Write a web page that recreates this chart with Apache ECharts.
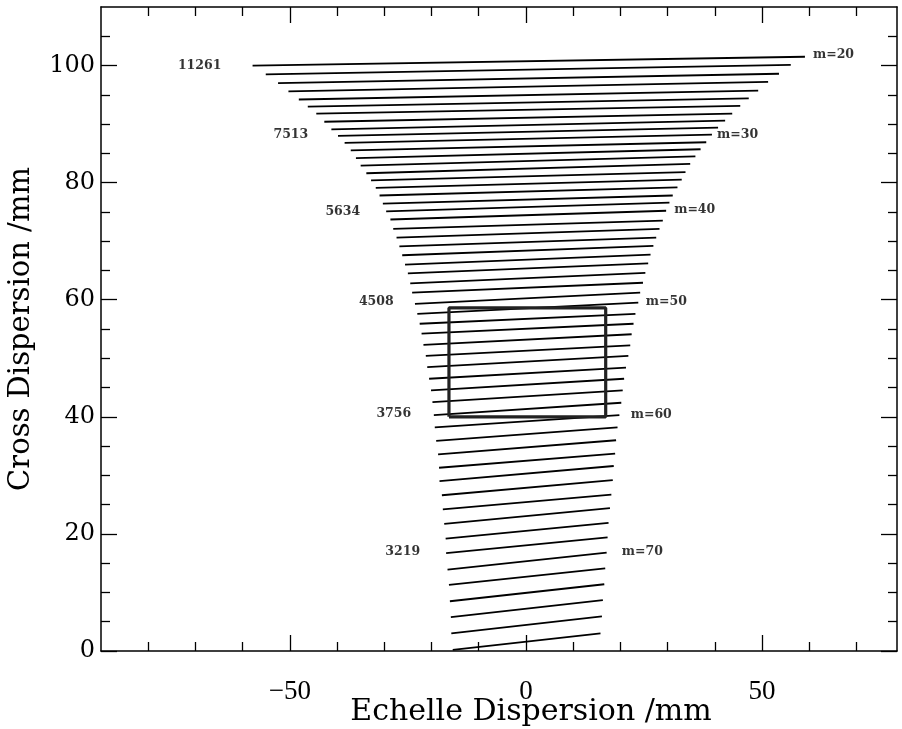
<!DOCTYPE html>
<html>
<head>
<meta charset="utf-8">
<script src="https://cdn.jsdelivr.net/npm/echarts@6/dist/echarts.min.js"></script>
<style>
  html, body { margin: 0; padding: 0; background: #fff; }
  #chart { width: 902px; height: 729px; }
</style>
</head>
<body>
<div id="chart"></div>
<script>
// echelle orders, m = 20 .. 75 (top to bottom)
const orders = [20,21,22,23,24,25,26,27,28,29,30,31,32,33,34,35,36,37,38,39,40,41,42,43,44,45,46,47,48,49,50,51,52,53,54,55,56,57,58,59,60,61,62,63,64,65,66,67,68,69,70,71,72,73,74,75]
// left (blue) end of each order, mm
const leftX = [-57.9,-55.1,-52.5,-50.3,-48.1,-46.2,-44.4,-42.7,-41.2,-39.8,-38.4,-37.1,-36.0,-35.0,-33.8,-32.8,-31.8,-31.0,-30.3,-29.6,-28.7,-28.1,-27.4,-26.8,-26.2,-25.6,-25.0,-24.5,-24.1,-23.5,-23.0,-22.5,-22.1,-21.7,-21.2,-20.9,-20.5,-20.1,-19.8,-19.5,-19.3,-19.0,-18.6,-18.4,-18.3,-17.8,-17.6,-17.3,-17.0,-16.9,-16.6,-16.3,-16.1,-15.9,-15.8,-15.5]
const leftY = [100.0,98.5,97.0,95.6,94.2,93.0,91.8,90.4,89.1,88.0,86.8,85.5,84.2,82.9,81.6,80.4,79.1,77.8,76.4,75.1,73.7,72.1,70.6,69.1,67.6,66.0,64.5,62.8,61.2,59.3,57.6,55.9,54.2,52.3,50.4,48.5,46.5,44.5,42.5,40.3,38.2,35.9,33.6,31.3,29.0,26.6,24.2,21.7,19.2,16.7,13.9,11.3,8.5,5.8,3.0,0.2]
// right (red) end of each order, mm
const rightX = [59.1,56.1,53.6,51.3,49.2,47.2,45.4,43.7,42.2,40.7,39.4,38.2,37.0,35.9,34.8,33.8,33.0,32.1,31.1,30.4,29.7,29.0,28.3,27.6,27.0,26.4,25.9,25.3,24.8,24.2,23.8,23.2,22.8,22.4,22.1,21.7,21.2,20.8,20.5,20.2,19.8,19.4,19.1,18.9,18.6,18.4,18.1,17.8,17.5,17.3,17.1,16.8,16.6,16.3,16.1,15.8]
const rightY = [101.5,100.1,98.6,97.2,95.7,94.4,93.1,91.8,90.6,89.4,88.2,86.9,85.7,84.5,83.2,81.8,80.5,79.2,77.8,76.6,75.2,73.5,72.1,70.6,69.2,67.7,66.2,64.6,62.9,61.2,59.5,57.6,55.9,54.1,52.2,50.4,48.4,46.5,44.5,42.4,40.3,38.2,36.0,33.7,31.6,29.2,26.7,24.4,21.9,19.4,16.8,14.1,11.4,8.7,5.9,3.0]

// detector outline, mm
const detectorX = [-16.3, 16.9]
const detectorY = [40.0, 58.6]

// labelled orders: blaze wavelength on the left, order number on the right
const labelOrders = [20, 30, 40, 50, 60, 70]
const blazeWavelengths = ['11261', '7513', '5634', '4508', '3756', '3219']
const waveLabelX = [-64.5, -46.1, -35.1, -28.0, -24.3, -22.4]
const waveLabelY = [99.9, 88.1, 75.1, 59.6, 40.5, 16.9]
const orderLabelX = [60.8, 40.5, 31.4, 25.4, 22.2, 20.3]
const orderLabelY = [101.8, 88.1, 75.3, 59.6, 40.3, 16.9]

// ticks
const xMajor = [-50, 0, 50]
const xMinor = [-80, -70, -60, -40, -30, -20, -10, 10, 20, 30, 40, 60, 70]
const yMajor = [0, 20, 40, 60, 80, 100]
const yMinor = [5, 10, 15, 25, 30, 35, 45, 50, 55, 65, 70, 75, 85, 90, 95, 105]

const X_MIN = -90, X_MAX = 78.6, Y_MIN = 0, Y_MAX = 110

const chart = echarts.init(document.getElementById('chart'), null, { renderer: 'canvas' })

const tickStyle = { color: '#000', width: 1.3 }

const axisBase = (min, max) => ({
  type: 'value',
  min, max,
  splitLine: { show: false },
  axisLine: { show: true, onZero: false, lineStyle: { color: '#000', width: 1.5 } },
})

// a second axis on the same side that only carries the short ticks
const minorAxis = (min, max, position, values) => ({
  ...axisBase(min, max),
  position,
  axisLine: { show: false, onZero: false },
  axisTick: { show: true, inside: true, length: 9, customValues: values, lineStyle: tickStyle },
  axisLabel: { show: false },
})

const xAxis = [
  {
    ...axisBase(X_MIN, X_MAX),
    position: 'bottom',
    axisTick: { show: true, inside: true, length: 16, customValues: xMajor, lineStyle: tickStyle },
    axisLabel: {
      show: true, customValues: xMajor, margin: 27,
      color: '#000', fontFamily: 'Liberation Serif', fontSize: 27,
      formatter: (v) => String(v).replace('-', '\u2212'),
    },
    name: 'Echelle Dispersion /mm',
    nameLocation: 'middle',
    nameGap: 46,
    nameMoveOverlap: false,
    nameTextStyle: { color: '#000', fontFamily: 'DejaVu Serif', fontSize: 30, padding: [0, 0, 0, 64] },
  },
  minorAxis(X_MIN, X_MAX, 'bottom', xMinor),
  {
    ...axisBase(X_MIN, X_MAX),
    position: 'top',
    axisTick: { show: true, inside: true, length: 16, customValues: xMajor, lineStyle: tickStyle },
    axisLabel: { show: false },
  },
  minorAxis(X_MIN, X_MAX, 'top', xMinor),
]

const yAxis = [
  {
    ...axisBase(Y_MIN, Y_MAX),
    position: 'left',
    axisTick: { show: true, inside: true, length: 16, customValues: yMajor, lineStyle: tickStyle },
    axisLabel: {
      show: true, customValues: yMajor, margin: 6,
      color: '#000', fontFamily: 'DejaVu Serif', fontSize: 24,
    },
    name: 'Cross Dispersion /mm',
    nameLocation: 'middle',
    nameRotate: 90,
    nameGap: 65,
    nameMoveOverlap: false,
    nameTextStyle: { color: '#000', fontFamily: 'DejaVu Serif', fontSize: 29 },
  },
  minorAxis(Y_MIN, Y_MAX, 'left', yMinor),
  {
    ...axisBase(Y_MIN, Y_MAX),
    position: 'right',
    axisTick: { show: true, inside: true, length: 16, customValues: yMajor, lineStyle: tickStyle },
    axisLabel: { show: false },
  },
  minorAxis(Y_MIN, Y_MAX, 'right', yMinor),
]

const orderSeries = orders.map((m, i) => ({
  type: 'line',
  name: 'm=' + m,
  data: [[leftX[i], leftY[i]], [rightX[i], rightY[i]]],
  showSymbol: false,
  symbol: 'none',
  lineStyle: { color: '#000', width: 1.8 },
  silent: true,
  z: 2,
}))

const detectorSeries = {
  type: 'line',
  name: 'detector',
  data: [
    [detectorX[0], detectorY[0]],
    [detectorX[1], detectorY[0]],
    [detectorX[1], detectorY[1]],
    [detectorX[0], detectorY[1]],
    [detectorX[0], detectorY[0]],
  ],
  symbol: 'none',
  lineStyle: { color: '#222', width: 3.2 },
  silent: true,
  z: 3,
}

const labelFont = { color: '#000', fontFamily: 'DejaVu Serif', fontWeight: 'bold', fontSize: 12.5 }

const waveLabels = {
  type: 'scatter',
  symbolSize: 0,
  silent: true,
  data: blazeWavelengths.map((w, i) => ({ value: [waveLabelX[i], waveLabelY[i]], name: w })),
  label: { show: true, position: 'left', distance: 0, formatter: (p) => p.name, ...labelFont },
  z: 4,
}

const orderLabels = {
  type: 'scatter',
  symbolSize: 0,
  silent: true,
  data: labelOrders.map((m, i) => ({ value: [orderLabelX[i], orderLabelY[i]], name: 'm=' + m })),
  label: { show: true, position: 'right', distance: 0, formatter: (p) => p.name, ...labelFont },
  z: 4,
}

chart.setOption({
  animation: false,
  backgroundColor: '#fff',
  grid: { left: 101, right: 5, top: 7, bottom: 78, containLabel: false, outerBoundsMode: 'none' },
  xAxis,
  yAxis,
  series: [...orderSeries, detectorSeries, waveLabels, orderLabels],
})
</script>
</body>
</html>
